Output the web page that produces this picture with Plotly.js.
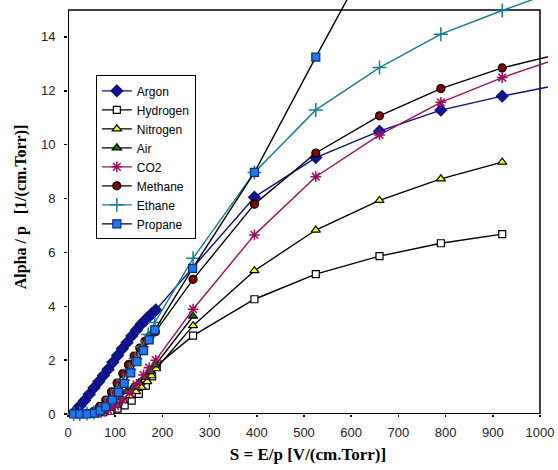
<!DOCTYPE html>
<html>
<head>
<meta charset="utf-8">
<script src="https://cdn.plot.ly/plotly-3.0.1.min.js"></script>
<style>html,body{margin:0;padding:0;background:#fff;}</style>
</head>
<body>
<div id="chart" style="width:558px;height:470px;"></div>
<script>
// ---- data ----
const seriesNames = ["Argon", "Hydrogen", "Nitrogen", "Air", "CO2", "Methane", "Ethane", "Propane"];

const argonS = [15, 25, 35, 45, 55, 65, 75, 85, 95, 105, 115, 125, 135, 145, 155, 163, 170, 178, 186, 395, 525, 660, 790, 920, 1050];
const argonA = [0.1, 0.3, 0.5, 0.73, 0.97, 1.2, 1.43, 1.66, 1.92, 2.17, 2.42, 2.65, 2.9, 3.12, 3.33, 3.47, 3.6, 3.73, 3.86, 8.05, 9.52, 10.5, 11.28, 11.8, 12.26];

const hydrogenS = [45, 60, 75, 90, 105, 120, 135, 150, 165, 178, 188, 265, 395, 525, 660, 790, 920];
const hydrogenA = [0, 0.03, 0.07, 0.12, 0.2, 0.32, 0.5, 0.75, 1.05, 1.4, 1.8, 2.91, 4.26, 5.19, 5.86, 6.34, 6.68];

const nitrogenS = [62, 75, 89, 103, 117, 131, 144, 156, 168, 177, 187, 265, 395, 525, 660, 790, 920];
const nitrogenA = [0.02, 0.09, 0.21, 0.33, 0.5, 0.67, 0.83, 0.99, 1.2, 1.42, 1.68, 3.28, 5.32, 6.83, 7.93, 8.73, 9.35];

const airS = [55, 68, 82, 96, 110, 124, 138, 150, 163, 174, 185, 265];
const airA = [0.05, 0.15, 0.3, 0.46, 0.62, 0.83, 1.0, 1.16, 1.36, 1.57, 1.82, 3.63];

const co2S = [70, 85, 100, 115, 130, 145, 160, 172, 186, 265, 395, 525, 660, 790, 920, 1050];
const co2A = [0.05, 0.15, 0.3, 0.52, 0.78, 1.1, 1.45, 1.72, 2.0, 3.89, 6.65, 8.81, 10.36, 11.57, 12.49, 13.27];

const methaneS = [25, 40, 55, 67, 80, 92, 104, 116, 128, 140, 152, 163, 174, 185, 265, 395, 525, 660, 790, 920, 1050];
const methaneA = [0, 0.02, 0.1, 0.28, 0.52, 0.82, 1.15, 1.5, 1.83, 2.15, 2.45, 2.7, 2.9, 3.05, 5.0, 7.79, 9.69, 11.07, 12.08, 12.85, 13.4];

const ethaneS = [12, 25, 40, 55, 67, 79, 92, 104, 117, 130, 143, 156, 170, 184, 265, 395, 525, 660, 790, 920, 1050];
const ethaneA = [0, 0, 0.02, 0.06, 0.16, 0.34, 0.6, 0.9, 1.25, 1.65, 2.05, 2.5, 2.95, 3.4, 5.78, 8.97, 11.29, 12.86, 14.1, 14.98, 15.8];

const propaneS = [12, 25, 40, 56, 68, 80, 94, 107, 119, 133, 146, 160, 172, 184, 264, 395, 525, 660];
const propaneA = [0, 0, 0, 0.03, 0.12, 0.27, 0.52, 0.8, 1.14, 1.53, 1.94, 2.35, 2.75, 3.12, 5.41, 8.97, 13.25, 17.6];

const xTickVals = [0, 100, 200, 300, 400, 500, 600, 700, 800, 900, 1000];
const yTickVals = [0, 2, 4, 6, 8, 10, 12, 14];

const xTitle = "S = E/p [V/(cm.Torr)]";
const yTitle = "Alpha / p\u00a0\u00a0\u00a0[1/(cm.Torr)]";

// ---- styles ----
const styles = {
  "Argon":    {line: "#0c0c86", sym: "diamond", fill: "#14148f", mline: "#0c0c86", size: 9},
  "Hydrogen": {line: "#000000", sym: "square", fill: "#ffffff", mline: "#000000", size: 7},
  "Nitrogen": {line: "#000000", sym: "triangle-up", fill: "#ffff00", mline: "#000000", size: 8},
  "Air":      {line: "#000000", sym: "triangle-up", fill: "#008000", mline: "#000000", size: 8},
  "CO2":      {line: "#99105f", sym: "asterisk-open", fill: "#99105f", mline: "#99105f", size: 9},
  "Methane":  {line: "#000000", sym: "circle", fill: "#8b0000", mline: "#000000", size: 8},
  "Ethane":   {line: "#167c93", sym: "cross-thin-open", fill: "#167c93", mline: "#167c93", size: 10},
  "Propane":  {line: "#000000", sym: "square", fill: "#1f78f0", mline: "#0a2a7a", size: 8}
};

const dataSets = {
  "Argon": [argonS, argonA],
  "Hydrogen": [hydrogenS, hydrogenA],
  "Nitrogen": [nitrogenS, nitrogenA],
  "Air": [airS, airA],
  "CO2": [co2S, co2A],
  "Methane": [methaneS, methaneA],
  "Ethane": [ethaneS, ethaneA],
  "Propane": [propaneS, propaneA]
};

const traces = seriesNames.map(n => {
  const st = styles[n];
  return {
    type: "scatter", mode: "lines+markers", name: n,
    x: dataSets[n][0], y: dataSets[n][1],
    cliponaxis: false,
    line: {color: st.line, width: 1.4},
    marker: {symbol: st.sym, size: st.size, color: st.fill,
             line: {color: st.mline, width: (st.sym.indexOf("open") >= 0 ? 1.5 : 1.2)}}
  };
});

const tickFont = {family: "Liberation Sans, Arial, sans-serif", size: 13, color: "#222"};
const yTitleFont = {family: "Liberation Serif, Times New Roman, serif", size: 16, color: "#000", weight: "bold"};
const xTitleFont = {family: "Liberation Serif, Times New Roman, serif", size: 17, color: "#000", weight: "bold"};

const layout = {
  width: 558, height: 470,
  margin: {l: 68, r: 10, t: 0, b: 56},
  paper_bgcolor: "#fff", plot_bgcolor: "#fff",
  showlegend: true,
  legend: {
    x: 0.058, y: 0.818, xanchor: "left", yanchor: "top",
    bgcolor: "#fff", bordercolor: "#000", borderwidth: 1,
    font: {family: "Liberation Sans, Arial, sans-serif", size: 12, color: "#000"},
    tracegroupgap: 0
  },
  xaxis: {
    range: [0, 1017], tickmode: "array", tickvals: xTickVals,
    ticks: "outside", ticklen: 2, tickwidth: 1.5, tickcolor: "#000",
    showgrid: false, zeroline: false, showline: false,
    tickfont: tickFont, ticklabelstandoff: 4,
    title: {text: "<b>" + xTitle + "</b>", font: xTitleFont, standoff: 9}
  },
  yaxis: {
    range: [0, 15.37], tickmode: "array", tickvals: yTickVals,
    ticks: "outside", ticklen: 3, tickwidth: 1.5, tickcolor: "#000",
    showgrid: false, zeroline: false, showline: false,
    tickfont: tickFont, ticklabelstandoff: 6,
    title: {text: "<b>" + yTitle + "</b>", font: yTitleFont, standoff: 10}
  },
  xaxis2: {
    overlaying: "x", anchor: "y", side: "bottom", range: [0, 1017],
    tickmode: "array", tickvals: xTickVals, ticks: "inside", ticklen: 4, tickwidth: 1.5, tickcolor: "#000",
    showticklabels: false, showgrid: false, zeroline: false, showline: false
  },
  yaxis2: {
    overlaying: "y", anchor: "x", side: "left", range: [0, 15.37],
    tickmode: "array", tickvals: yTickVals, ticks: "inside", ticklen: 4, tickwidth: 1.5, tickcolor: "#000",
    showticklabels: false, showgrid: false, zeroline: false, showline: false
  },
  shapes: [
    {type: "rect", xref: "x", yref: "y", x0: 0, x1: 1000, y0: 0, y1: 15,
     line: {color: "#000", width: 1.5}, fillcolor: "rgba(0,0,0,0)", layer: "below"},
    {type: "line", xref: "x", yref: "y", x0: 0, x1: 1000, y0: 0, y1: 0,
     line: {color: "#000", width: 2}, layer: "below"},
    {type: "line", xref: "x", yref: "y", x0: 0, x1: 0, y0: 0, y1: 15,
     line: {color: "#000", width: 2}, layer: "below"}
  ]
};

Plotly.newPlot("chart", traces, layout, {displayModeBar: false, staticPlot: true});
</script>
</body>
</html>
